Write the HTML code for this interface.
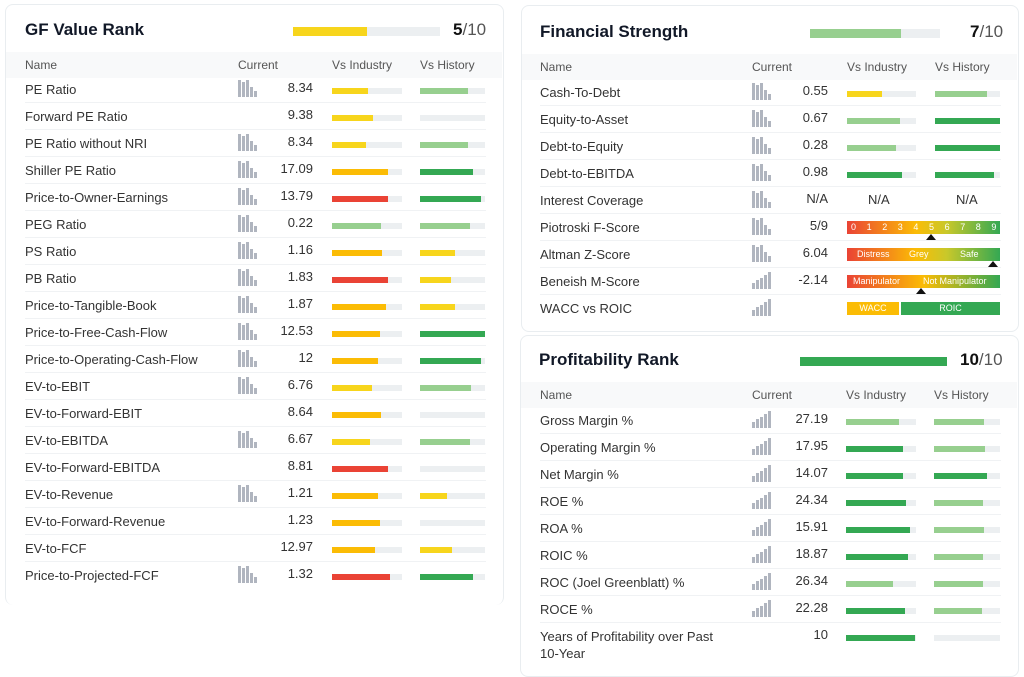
<!DOCTYPE html>
<html><head><meta charset="utf-8">
<style>
body{margin:0;width:1024px;height:677px;background:#fff;position:relative;overflow:hidden;font-family:"Liberation Sans",sans-serif;color:#333}
.card{position:absolute;border:1px solid #e9edf0;border-radius:8px;background:#fff}
.ab{position:absolute}
.title{font-size:17px;font-weight:bold;color:#111827}
.hdr{position:absolute;background:#f8f9fa;height:26px}
.ht{position:absolute;font-size:12px;color:#555}
.nm{position:absolute;font-size:13px;color:#333;white-space:nowrap}
.val{position:absolute;font-size:13px;color:#333;text-align:right;width:60px}
.trk{position:absolute;height:6px;background:#eceff1}
.fill{position:absolute;left:0;top:0;height:6px}
.sep{position:absolute;height:1px;background:#f0f2f4}
.y{background:#f7d51c}.o{background:#fbbc05}.r{background:#ea4335}.lg{background:#97cf8f}.dg{background:#34a853}
.spk{position:absolute;width:22px;height:17px}
.spk i{position:absolute;bottom:0;width:3px;background:#b0b5bf}
.gb{position:absolute;height:13px;font-size:9px;color:#fff;line-height:13px}
.tri{position:absolute;width:0;height:0;border-left:5px solid transparent;border-right:5px solid transparent;border-bottom:6px solid #111}
</style></head><body>
<div class="card" style="left:5px;top:4px;width:497px;height:600px;border-bottom:none"></div>
<div class="card" style="left:521px;top:5px;width:496px;height:325px"></div>
<div class="card" style="left:520px;top:335px;width:497px;height:340px"></div>
<div id="root"></div>
<script>
const gfNames=["PE Ratio","Forward PE Ratio","PE Ratio without NRI","Shiller PE Ratio","Price-to-Owner-Earnings","PEG Ratio","PS Ratio","PB Ratio","Price-to-Tangible-Book","Price-to-Free-Cash-Flow","Price-to-Operating-Cash-Flow","EV-to-EBIT","EV-to-Forward-EBIT","EV-to-EBITDA","EV-to-Forward-EBITDA","EV-to-Revenue","EV-to-Forward-Revenue","EV-to-FCF","Price-to-Projected-FCF"];
const gfValues=["8.34","9.38","8.34","17.09","13.79","0.22","1.16","1.83","1.87","12.53","12","6.76","8.64","6.67","8.81","1.21","1.23","12.97","1.32"];
const gfSpark=[1,0,1,1,1,1,1,1,1,1,1,1,0,1,0,1,0,0,1];
const gfInd=[0.52,0.59,0.49,0.8,0.8,0.7,0.72,0.8,0.77,0.69,0.66,0.57,0.7,0.54,0.8,0.66,0.69,0.62,0.83];
const gfIndC=["y","y","y","o","r","lg","o","r","o","o","o","y","o","y","r","o","o","o","r"];
const gfHist=[0.74,0,0.74,0.82,0.94,0.77,0.54,0.48,0.54,1,0.94,0.78,0,0.77,0,0.42,0,0.49,0.82];
const gfHistC=["lg","","lg","dg","dg","lg","y","y","y","dg","dg","lg","","lg","","y","","y","dg"];
const fsNames=["Cash-To-Debt","Equity-to-Asset","Debt-to-Equity","Debt-to-EBITDA","Interest Coverage","Piotroski F-Score","Altman Z-Score","Beneish M-Score","WACC vs ROIC"];
const fsValues=["0.55","0.67","0.28","0.98","N/A","5/9","6.04","-2.14",""];
const fsInd=[0.51,0.77,0.71,0.8];
const fsIndC=["y","lg","lg","dg"];
const fsHist=[0.8,1,1,0.91];
const fsHistC=["lg","dg","dg","dg"];
const prNames=["Gross Margin %","Operating Margin %","Net Margin %","ROE %","ROA %","ROIC %","ROC (Joel Greenblatt) %","ROCE %"];
const prValues=["27.19","17.95","14.07","24.34","15.91","18.87","26.34","22.28","10"];
const prInd=[0.75,0.82,0.82,0.86,0.92,0.89,0.67,0.84,0.98];
const prIndC=["lg","dg","dg","dg","dg","dg","lg","dg","dg"];
const prHist=[0.76,0.77,0.8,0.74,0.76,0.74,0.74,0.73,0];
const prHistC=["lg","lg","dg","lg","lg","lg","lg","lg",""];
const root=document.getElementById('root');
function mk(cls,st,txt){const e=document.createElement('div');e.className=cls;e.style.cssText=st;if(txt!==undefined)e.textContent=txt;root.appendChild(e);return e;}
function bar(x,y,w,f,c){const t=mk('trk',`left:${x}px;top:${y}px;width:${w}px`);if(f>0){const fl=document.createElement('div');fl.className='fill '+c;fl.style.width=(f*w)+'px';t.appendChild(fl);}return t;}
function spark(x,y,kind){const s=mk('spk',`left:${x}px;top:${y}px`);const hs=kind===2?[6,9,11,14,17]:[17,15,17,10,6];hs.forEach((h,i)=>{const b=document.createElement('i');b.style.left=(i*4)+'px';b.style.height=h+'px';s.appendChild(b);});}
function header(cfg){
 const t=mk('ab title',`left:${cfg.tx}px;top:${cfg.ty}px`,cfg.title);
 const rb=mk('ab',`left:${cfg.rbx}px;top:${cfg.ty+7}px;width:${cfg.rbw}px;height:9px;background:#eceff1`);
 const rf=document.createElement('div');rf.className=cfg.rc;rf.style.cssText=`height:9px;width:${cfg.rank/10*cfg.rbw}px`;rb.appendChild(rf);
 const rt=mk('ab',`left:${cfg.rtx}px;top:${cfg.ty}px;font-size:17px;color:#555`);rt.innerHTML=`<b style="color:#111">${cfg.rank}</b>/10`;
 const h=mk('hdr',`left:${cfg.hx}px;top:${cfg.hy}px;width:${cfg.hw}px`);
 [["Name",cfg.c0],["Current",cfg.c1],["Vs Industry",cfg.c2],["Vs History",cfg.c3]].forEach(([s,x])=>{const e=mk('ht',`left:${x}px;top:${cfg.hy+6}px`,s);});
}
function rowsRender(cfg,names,vals,sp,ind,indC,hist,histC){
 names.forEach((n,i)=>{const y=cfg.r0+i*27;
  const e=mk('nm',`left:${cfg.c0}px;top:${y-8}px`,n);
  if(sp[i])spark(cfg.c1,y-10,sp[i]);
  const v=mk('val',`left:${cfg.vr-60}px;top:${y-10}px`,vals[i]);
  if(i<ind.length){bar(cfg.c2,y-2,cfg.iw,ind[i],indC[i]);bar(cfg.c3,y-2,cfg.hw2,hist[i],histC[i]);}
  if(i<names.length-1){const s=mk('sep',`left:${cfg.c0}px;top:${y+12}px;width:${cfg.sw}px`);}
 });
}
const gf={tx:25,ty:20,title:"GF Value Rank",rbx:293,rbw:147,rank:5,rc:"y",rtx:453,hx:6,hy:52,hw:496,c0:25,c1:238,c2:332,c3:420,r0:90,vr:313,iw:70,hw2:65,sw:461};
header(gf);rowsRender(gf,gfNames,gfValues,gfSpark,gfInd,gfIndC,gfHist,gfHistC);
const fs={tx:540,ty:22,title:"Financial Strength",rbx:810,rbw:130,rank:7,rc:"lg",rtx:970,hx:522,hy:54,hw:495,c0:540,c1:752,c2:847,c3:935,r0:93,vr:828,iw:69,hw2:65,sw:461};
header(fs);rowsRender(fs,fsNames,fsValues,[1,1,1,1,1,1,1,2,2],fsInd,fsIndC,fsHist,fsHistC);
const pr={tx:539,ty:350,title:"Profitability Rank",rbx:800,rbw:147,rank:10,rc:"dg",rtx:960,hx:521,hy:382,hw:496,c0:540,c1:752,c2:846,c3:934,r0:421,vr:828,iw:70,hw2:66,sw:461};
header(pr);rowsRender(pr,prNames.concat([""]),prValues,[2,2,2,2,2,2,2,2,0],prInd,prIndC,prHist,prHistC);
const yl=mk('nm',`left:540px;top:628px;line-height:17px`);yl.innerHTML="Years of Profitability over Past<br>10-Year";
// N/A
[[880,192],[968,192]].forEach(([x,y])=>{const e=mk('ab',`left:${x-12}px;top:${y}px;font-size:13px;color:#333`,"N/A");});
// Piotroski
const pio=mk('gb',`left:847px;top:221px;width:153px;background:linear-gradient(90deg,#ea4335,#fbbc05 45%,#c9c82a 65%,#34a853)`);
for(let d=0;d<10;d++){const s=document.createElement('span');s.textContent=d;s.style.cssText=`position:absolute;left:${4+d*15.6}px`;pio.appendChild(s);}
const alt=mk('gb',`left:847px;top:248px;width:153px;background:linear-gradient(90deg,#ea4335,#fbbc05 45%,#c9c82a 65%,#34a853)`);alt.innerHTML='<span style="position:absolute;left:10px">Distress</span><span style="position:absolute;left:62px">Grey</span><span style="position:absolute;left:113px">Safe</span>';
const ben=mk('gb',`left:847px;top:275px;width:153px;background:linear-gradient(90deg,#ea4335,#fbbc05 50%,#34a853)`);ben.innerHTML='<span style="position:absolute;left:6px">Manipulator</span><span style="position:absolute;left:76px">Not Manipulator</span>';
[[931,234],[993,261],[921,288]].forEach(([x,y])=>{const t=mk('tri',`left:${x-5}px;top:${y}px`);});
const w1=mk('gb',`left:847px;top:302px;width:52px;background:#fbbc05;text-align:center`,"WACC");
const w2=mk('gb',`left:901px;top:302px;width:99px;background:#34a853;text-align:center`,"ROIC");
</script>
</body></html>
